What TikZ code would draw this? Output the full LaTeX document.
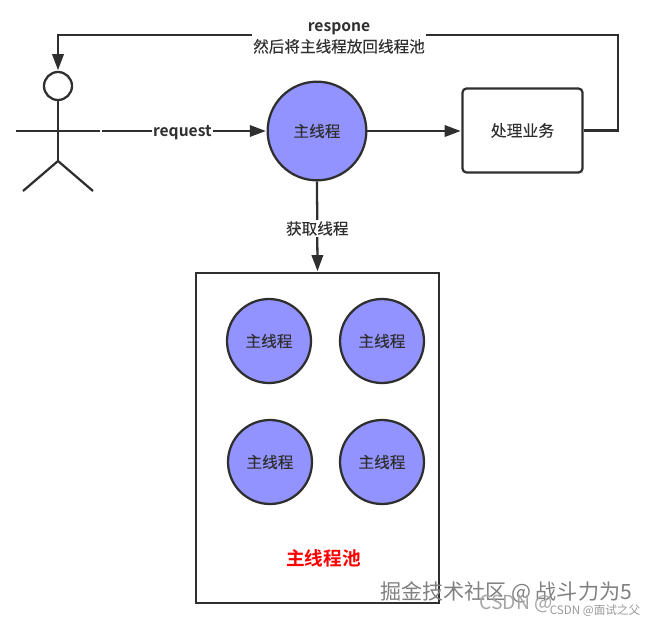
\documentclass[tikz,border=0pt]{standalone}
\usepackage{fontspec}
\setmainfont[FakeBold=0.12]{Noto Sans CJK SC}
\newfontfamily\plaincjk{Noto Sans CJK SC}
\newfontfamily\bfcjk{Noto Sans CJK SC Bold}
\usetikzlibrary{arrows.meta}
\definecolor{ink}{HTML}{2F2F2F}
\definecolor{fillblue}{HTML}{9393FF}
\newcommand{\lowr}[1]{\raisebox{-0.7pt}{#1}}
\tikzset{
  x=0.75pt,y=-0.75pt,
  conn/.style={draw=ink,line width=1.7pt,-{Triangle[length=12pt,width=8.5pt]},shorten >=0.5pt},
  plain/.style={draw=ink,line width=1.7pt},
  worker/.style={circle,draw=ink,line width=1.7pt,fill=fillblue,minimum size=63pt,inner sep=0pt,text=ink,font=\fontsize{11.7pt}{13pt}\selectfont},
  lbl/.style={fill=white,inner sep=1pt,text=ink,align=center,font=\fontsize{11.7pt}{15.7pt}\selectfont},
  wmark/.style={text=gray,inner sep=0pt,font=\plaincjk\fontsize{#1}{#1}\selectfont}
}
\begin{document}
\begin{tikzpicture}
\useasboundingbox (0,0) rectangle (647,622);
% pool
\node[draw=ink,line width=1.7pt,minimum width=182pt,minimum height=247.5pt,inner sep=0pt] (pool) at (317.5,438) {};
% main thread
\node[worker,minimum size=74pt] (main) at (317,131) {\lowr{主线程}};
% business
\node[draw=ink,line width=1.7pt,rounded corners=3pt,minimum width=90pt,minimum height=63pt,inner sep=0pt,text=ink,font=\fontsize{11.9pt}{13pt}\selectfont] (biz) at (522.5,130.5) {\lowr{处理业务}};
% workers
\node[worker] (w1) at (269,341) {\lowr{主线程}};
\node[worker] (w2) at (382,341) {\lowr{主线程}};
\node[worker] (w3) at (270,462) {\lowr{主线程}};
\node[worker] (w4) at (382,462) {\lowr{主线程}};
\node[text=red,font=\bfcjk\fontsize{14pt}{16pt}\selectfont,inner sep=0pt] (title) at (323.5,558) {主线程池};
% actor
\node[circle,draw=ink,line width=1.7pt,minimum size=21pt,inner sep=0pt] (head) at (58,86) {};
\coordinate (hip) at (58,161);
\coordinate (armL) at (16,131);
\coordinate (armR) at (100,131);
\coordinate (reqstart) at (101.5,131);
\coordinate (legL) at (23,191);
\coordinate (legR) at (93,191);
\draw[plain] (head.south) -- (hip);
\draw[plain] (armL) -- (armR);
\draw[plain] (legL) -- (hip) -- (legR);
% connectors
\draw[conn] (reqstart) -- node[lbl,pos=0.49,yshift=-1.5pt] (reqlbl) {\bfcjk\raisebox{-1pt}{request}} (main.west);
\draw[conn] (main.east) -- (main.east -| biz.west);
\draw[conn] (main.south) -- node[lbl,pos=0.52] (getlbl) {获取线程} (pool.north);
\coordinate (c1) at (618,130.5);
\coordinate (c2) at (618,35);
\coordinate (c3) at (58,35);
\draw[conn] (biz.east) -- (c1) -- (c2) -- (c3) -- (head.north);
\node[lbl] (resplbl) at (339,38) {{\bfcjk respone}\\然后将主线程放回线程池};
% watermarks
\node[wmark=15.8pt] (wm1) at (506,592) {掘金技术社区 @ 战斗力为5};
\node[wmark=14.5pt,text=gray!70] (wm2) at (516,604) {CSDN @};
\node[wmark=8.7pt,text=gray!80] (wm3) at (595,611) {CSDN @面试之父};
\end{tikzpicture}
\end{document}
